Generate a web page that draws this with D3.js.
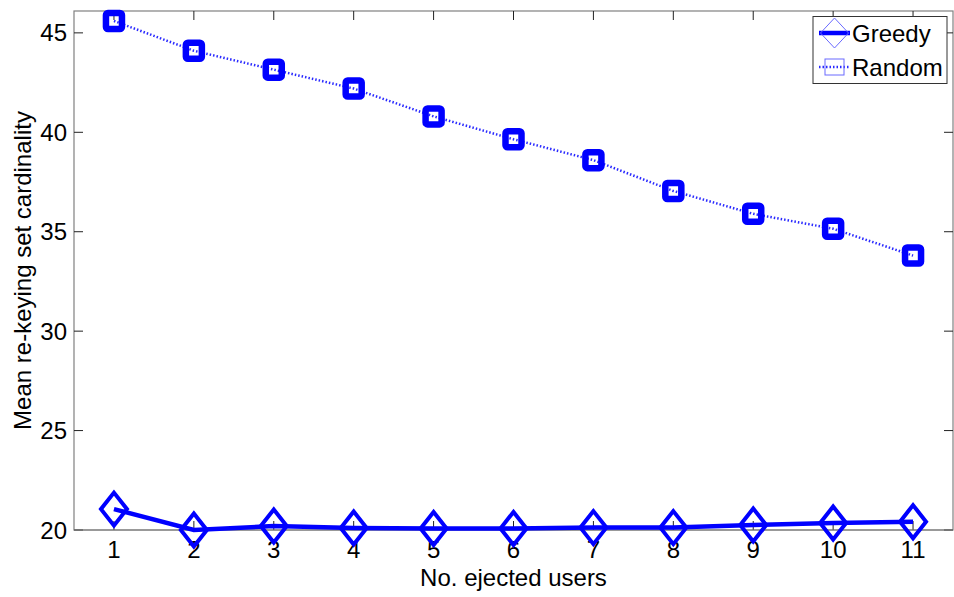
<!DOCTYPE html>
<html><head><meta charset="utf-8">
<script src="https://cdn.jsdelivr.net/npm/d3@7"></script>
<style>body{margin:0;background:#fff}svg{display:block}text{font-family:"Liberation Sans",Arial,Helvetica,sans-serif}</style>
</head><body>
<svg id="c" width="954" height="597"></svg>
<script>
const users = [1,2,3,4,5,6,7,8,9,10,11];
const greedy = [21.05,20.0,20.2,20.1,20.08,20.08,20.12,20.12,20.25,20.35,20.42];
const random = [45.6,44.1,43.15,42.2,40.8,39.65,38.6,37.05,35.9,35.15,33.8];
const xTicks = [1,2,3,4,5,6,7,8,9,10,11];
const yTicks = [20,25,30,35,40,45];
const seriesNames = ["Greedy","Random"];

const svg = d3.select("#c");
const L=74, R=953, T=11, B=530;
const x = d3.scaleLinear().domain([0.5,11.5]).range([L,R]);
const y = d3.scaleLinear().domain([20,46.1]).range([B,T]);
const blue="#0000ff";
const FS=24;

// frame
svg.append("rect").attr("x",L).attr("y",T).attr("width",R-L).attr("height",B-T)
  .attr("fill","none").attr("stroke","#808080").attr("stroke-width",1.2);

// ticks
const tk=9;
const g=svg.append("g").attr("stroke","#222").attr("stroke-width",1);
xTicks.forEach(v=>{
  g.append("line").attr("x1",x(v)).attr("x2",x(v)).attr("y1",B).attr("y2",B-tk);
  g.append("line").attr("x1",x(v)).attr("x2",x(v)).attr("y1",T).attr("y2",T+tk);
});
yTicks.forEach(v=>{
  g.append("line").attr("x1",L).attr("x2",L+tk).attr("y1",y(v)).attr("y2",y(v));
  g.append("line").attr("x1",R).attr("x2",R-tk).attr("y1",y(v)).attr("y2",y(v));
});
svg.append("line").attr("x1",L).attr("x2",R).attr("y1",B).attr("y2",B).attr("stroke","#808080").attr("stroke-width",1.2);

// tick labels
svg.append("g").selectAll("text").data(xTicks).join("text")
  .attr("x",d=>x(d)).attr("y",558).attr("text-anchor","middle")
  .attr("font-size",FS).text(d=>d);
svg.append("g").selectAll("text").data(yTicks).join("text")
  .attr("x",67).attr("y",d=>y(d)+8.5).attr("text-anchor","end")
  .attr("font-size",FS).text(d=>d);

// axis labels
svg.append("text").attr("x",(L+R)/2).attr("y",586).attr("text-anchor","middle")
  .attr("font-size",FS).text("No. ejected users");
svg.append("text").attr("transform",`translate(31,${(T+B)/2}) rotate(-90)`)
  .attr("text-anchor","middle").attr("font-size",FS).text("Mean re-keying set cardinality");

const line=d3.line().x((d,i)=>x(users[i])).y(d=>y(d));

// Random series
svg.append("path").datum(random).attr("d",line).attr("fill","none")
  .attr("stroke","#2a2aff").attr("stroke-width",2.5).attr("stroke-dasharray","1.5,2");
svg.append("g").selectAll("rect").data(random).join("rect")
  .attr("x",(d,i)=>x(users[i])-8).attr("y",d=>y(d)-8).attr("width",16).attr("height",16)
  .attr("rx",2).attr("fill","none").attr("stroke",blue).attr("stroke-width",6.5);

// Greedy series
svg.append("path").datum(greedy).attr("d",line).attr("fill","none")
  .attr("stroke",blue).attr("stroke-width",4.5);
const dia=(cx,cy,w,h)=>`M${cx},${cy-h}L${cx+w},${cy}L${cx},${cy+h}L${cx-w},${cy}Z`;
svg.append("g").selectAll("path").data(greedy).join("path")
  .attr("d",(d,i)=>dia(x(users[i]),y(d),13,16.5)).attr("fill","none")
  .attr("stroke",blue).attr("stroke-width",4);

// Legend
const lg=svg.append("g");
lg.append("rect").attr("x",813).attr("y",16.5).attr("width",134).attr("height",67)
  .attr("fill","#fff").attr("stroke","#333").attr("stroke-width",1);
lg.append("line").attr("x1",819).attr("x2",850).attr("y1",33).attr("y2",33).attr("stroke",blue).attr("stroke-width",4.5);
lg.append("path").attr("d",dia(834.5,33,14,15)).attr("fill","none").attr("stroke","#6a6aff").attr("stroke-width",1);
lg.append("line").attr("x1",819).attr("x2",850).attr("y1",67).attr("y2",67).attr("stroke","#2a2aff").attr("stroke-width",2.5).attr("stroke-dasharray","1.5,2");
lg.append("rect").attr("x",825).attr("y",59).attr("width",19).attr("height",16).attr("fill","none").attr("stroke","#6a6aff").attr("stroke-width",1);
lg.selectAll("text.l").data(seriesNames).join("text")
  .attr("x",852).attr("y",(d,i)=>42+i*34).attr("font-size",FS).text(d=>d);
</script>
</body></html>
